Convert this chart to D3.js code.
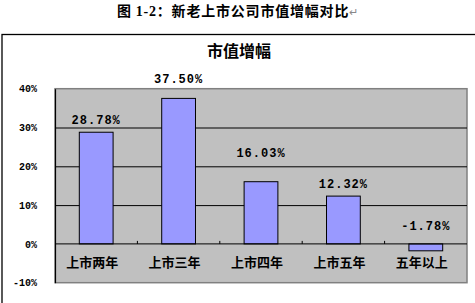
<!DOCTYPE html>
<html>
<head>
<meta charset="utf-8">
<script src="https://cdn.jsdelivr.net/npm/d3@7"></script>
<style>
  body { margin: 0; background: #fff; }
  svg { display: block; }
</style>
</head>
<body>
<div id="chart-area"></div>
<script>
// data
const categories = ["上市两年", "上市三年", "上市四年", "上市五年", "五年以上"];
const growth = [0.2878, 0.375, 0.1603, 0.1232, -0.0178];
const yTicks = [-0.1, 0, 0.1, 0.2, 0.3, 0.4];

// label lift above bar top (labels were hand-moved in the original)
const labelGap = [8, 15, 25, 8, 14];

const W = 475, H = 303;
const plot = { left: 55, right: 467, top: 88.7, bottom: 282.7 };

const loc = d3.formatLocale({ decimal: ".", thousands: ",", grouping: [3], currency: ["", ""], minus: "-" });
const pct2 = loc.format(".2%");
const pct0 = loc.format(".0%");

let svg = d3.select("#chart-area").append("svg")
  .attr("width", W)
  .attr("height", H);

// caption above the chart
let cap = svg.append("text")
  .attr("x", 238)
  .attr("y", 16)
  .attr("text-anchor", "middle")
  .style("font-family", "'Noto Sans CJK SC', sans-serif")
  .style("font-weight", "bold")
  .style("font-size", "14px")
  .style("letter-spacing", "0.8px");
cap.append("tspan").text("图 ");
cap.append("tspan").style("font-family", "'Liberation Serif', serif").text("1-2");
cap.append("tspan").text("：新老上市公司市值增幅对比");
cap.append("tspan").style("fill", "#888").style("font-weight", "normal").style("font-size", "11px").text("↵");

// outer chart frame
svg.append("rect")
  .attr("x", 2).attr("y", 34.5)
  .attr("width", 476).attr("height", 300)
  .attr("fill", "#fff")
  .attr("stroke", "#000")
  .attr("stroke-width", 1.3);

svg.append("text")
  .attr("x", 239)
  .attr("y", 57)
  .attr("text-anchor", "middle")
  .style("font-family", "'Noto Sans CJK SC', sans-serif")
  .style("font-size", "16px")
  .style("font-weight", "bold")
  .text("市值增幅");

// scales
let x = d3.scaleBand().domain(categories).range([plot.left, plot.right])
  .paddingInner(0.59).paddingOuter(0.295);
let y = d3.scaleLinear().domain([-0.1, 0.4]).range([plot.bottom, plot.top]);

// plot area
svg.append("rect")
  .attr("x", plot.left).attr("y", plot.top)
  .attr("width", plot.right - plot.left)
  .attr("height", plot.bottom - plot.top)
  .attr("fill", "#c0c0c0")
  .attr("stroke", "#808080")
  .attr("stroke-width", 1.5);

// gridlines
svg.append("g")
  .attr("transform", "translate(" + plot.left + ",0)")
  .call(d3.axisLeft(y).tickValues([0.1, 0.2, 0.3]).tickSize(-(plot.right - plot.left)).tickFormat(""))
  .call(g => g.select(".domain").remove())
  .call(g => g.selectAll("line").attr("stroke", "#000"));

// bars
svg.selectAll(".bar")
  .data(growth)
  .enter()
  .append("rect")
  .attr("class", "bar")
  .attr("x", (d, i) => x(categories[i]))
  .attr("y", d => y(Math.max(d, 0)))
  .attr("width", x.bandwidth())
  .attr("height", d => Math.abs(y(d) - y(0)))
  .attr("fill", "#9999ff")
  .attr("stroke", "#000")
  .attr("stroke-width", 1);

// zero line with category tick marks
svg.append("line")
  .attr("x1", plot.left).attr("x2", plot.right)
  .attr("y1", y(0)).attr("y2", y(0))
  .attr("stroke", "#000");
svg.selectAll(".cat-tick")
  .data(d3.range(1, categories.length))
  .enter()
  .append("line")
  .attr("class", "cat-tick")
  .attr("x1", i => plot.left + x.step() * i)
  .attr("x2", i => plot.left + x.step() * i)
  .attr("y1", y(0)).attr("y2", y(0) - 3)
  .attr("stroke", "#000");

// y axis
let yAxisGroup = svg.append("g")
  .attr("transform", "translate(" + plot.left + ",0)")
  .call(d3.axisLeft(y).tickValues(yTicks).tickSize(0).tickPadding(18).tickFormat(pct0));
yAxisGroup.select(".domain").attr("stroke", "#000").attr("stroke-width", 1.2);
yAxisGroup.selectAll("text")
  .style("font-family", "'Liberation Mono', monospace")
  .style("font-weight", "bold")
  .style("font-size", "10px")
  .attr("fill", "#000");

// category labels
svg.selectAll(".cat-label")
  .data(categories)
  .enter()
  .append("text")
  .attr("class", "cat-label")
  .attr("x", d => x(d) + x.bandwidth() / 2 - 4)
  .attr("y", 267)
  .attr("text-anchor", "middle")
  .style("font-family", "'Noto Sans CJK SC', sans-serif")
  .style("font-weight", "bold")
  .style("font-size", "13px")
  .text(d => d);

// value labels
svg.selectAll(".val-label")
  .data(growth)
  .enter()
  .append("text")
  .attr("class", "val-label")
  .attr("x", (d, i) => x(categories[i]) + x.bandwidth() / 2)
  .attr("y", (d, i) => y(Math.max(d, 0)) - labelGap[i])
  .attr("text-anchor", "middle")
  .style("font-family", "'Liberation Mono', monospace")
  .style("font-weight", "bold")
  .style("font-size", "12px")
  .style("letter-spacing", "1px")
  .text(d => pct2(d));
</script>
</body>
</html>
